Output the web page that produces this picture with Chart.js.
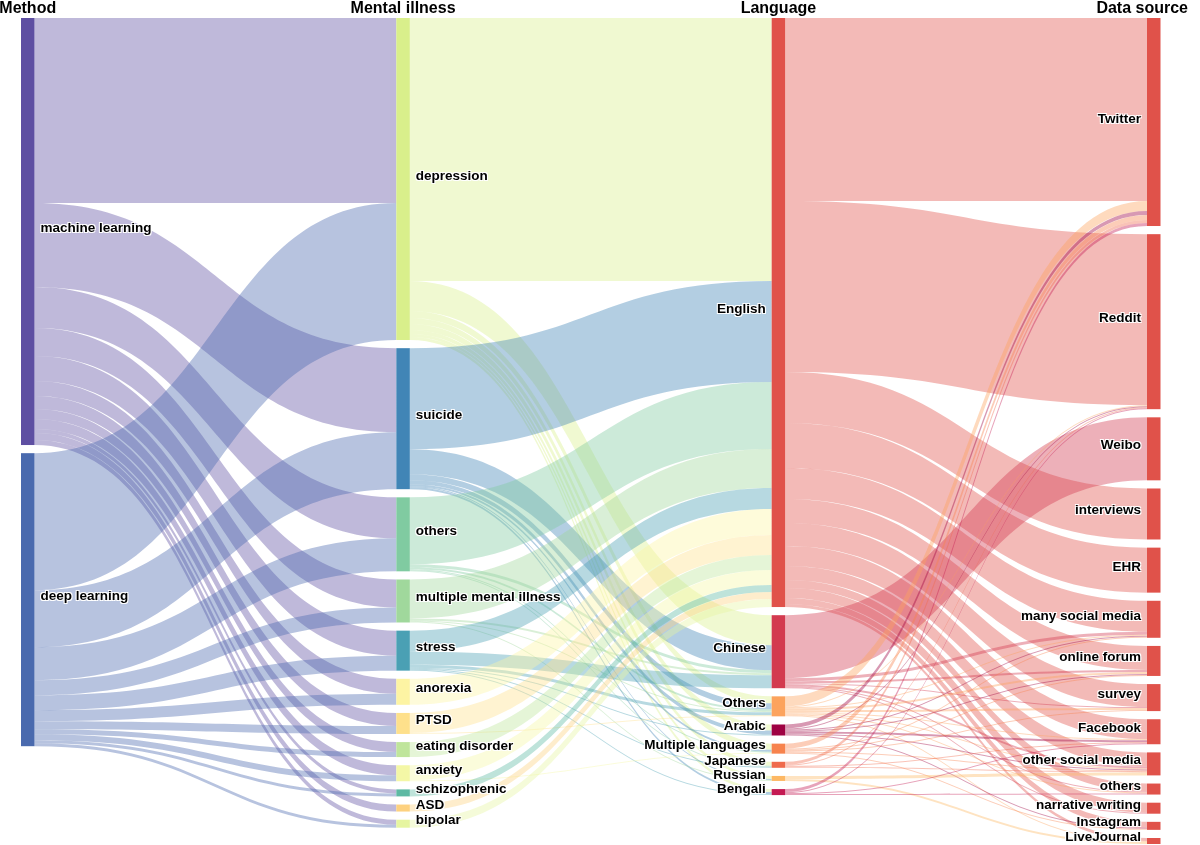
<!DOCTYPE html>
<html>
<head>
<meta charset="utf-8">
<script src="https://cdn.jsdelivr.net/npm/chart.js@4.4.1/dist/chart.umd.min.js"></script>
<style>
  html, body { margin: 0; background: #fff; }
  #wrap { width: 1200px; height: 845px; position: relative; }
</style>
</head>
<body>
<div id="wrap"><canvas id="sankey"></canvas></div>
<script>
// --- Datos ---
const columnTitles = ['Method', 'Mental illness', 'Language', 'Data source'];

const methods = ['machine learning', 'deep learning'];
const illnesses = ['depression', 'suicide', 'others', 'multiple mental illness', 'stress', 'anorexia',
  'PTSD', 'eating disorder', 'anxiety', 'schizophrenic', 'ASD', 'bipolar'];
const languages = ['English', 'Chinese', 'Others', 'Arabic', 'Multiple languages', 'Japanese', 'Russian', 'Bengali'];
const sources = ['Twitter', 'Reddit', 'Weibo', 'interviews', 'EHR', 'many social media', 'online forum',
  'survey', 'Facebook', 'other social media', 'others', 'narrative writing', 'Instagram', 'LiveJournal'];

// method -> mental illness (in illness order)
const mlToIllness = [185, 84, 41, 28, 25, 15, 13, 10, 10, 4, 7, 5];
const dlToIllness = [137, 57, 33, 15, 15, 11, 8, 5, 6, 3, 0, 3];

// mental illness -> language (in language order)
const depressionToLang = [263, 30, 7, 6, 6, 4, 3, 3];
const suicideToLang = [101, 25, 6, 4, 2, 0, 1, 2];
const othersIllToLang = [67, 3, 2, 0, 1, 1, 0, 0];
const multipleToLang = [39, 2, 1, 0, 0, 0, 1, 0];
const stressToLang = [21, 13, 3, 1, 0, 1, 0, 1];
const anorexiaToLang = [26, 0, 0, 0, 0, 0, 0, 0];
const ptsdToLang = [20, 0, 1, 0, 0, 0, 0, 0];
const eatingToLang = [15, 0, 0, 0, 0, 0, 0, 0];
const anxietyToLang = [15, 0, 0, 0, 1, 0, 0, 0];
const schizoToLang = [7, 0, 0, 0, 0, 0, 0, 0];
const asdToLang = [7, 0, 0, 0, 0, 0, 0, 0];
const bipolarToLang = [8, 0, 0, 0, 0, 0, 0, 0];

// language -> data source (in data source order)
const englishToSrc = [183, 171, 0, 51, 45, 31, 24, 23, 20, 14, 8, 10, 6, 3];
const chineseToSrc = [0, 0, 63, 0, 0, 3, 2, 1, 0, 2, 1, 1, 0, 0];
const othersLangToSrc = [10, 1, 0, 0, 0, 1, 2, 2, 1, 1, 1, 0, 0, 1];
const arabicToSrc = [4, 1, 0, 0, 0, 1, 1, 0, 2, 1, 0, 0, 1, 0];
const multiLangToSrc = [5, 0, 0, 0, 0, 1, 1, 1, 0, 1, 0, 0, 1, 0];
const japaneseToSrc = [3, 1, 0, 0, 0, 0, 0, 0, 1, 1, 0, 0, 0, 0];
const russianToSrc = [0, 0, 0, 0, 0, 0, 0, 0, 0, 3, 0, 0, 0, 2];
const bengaliToSrc = [3, 1, 0, 0, 0, 0, 0, 0, 1, 0, 1, 0, 0, 0];

// --- Colores ---
const methodColors = ['#5e4fa2', '#4a6aae'];
const illnessColors = ['#d9ef8b', '#4185b6', '#80cba1', '#a0d89c', '#4aa0b4', '#fdf4a3',
  '#fee08b', '#bfe59b', '#f4f7a6', '#5db9a3', '#fdd17f', '#e6f5a0'];
const languageColors = ['#e0524a', '#d33a4f', '#fca35d', '#9e0142', '#f7834d', '#ef6a4c', '#fdb864', '#c41a52'];
const sourceColors = sources.map(() => '#e0524a');

const NODE_WIDTH = 13.5;   // px
const NODE_PAD = 8.15;     // en unidades de valor
const LINK_ALPHA = 0.4;

const columns = [methods, illnesses, languages, sources];
const colors = [methodColors, illnessColors, languageColors, sourceColors];
const flows = [
  [mlToIllness, dlToIllness],
  [depressionToLang, suicideToLang, othersIllToLang, multipleToLang, stressToLang, anorexiaToLang,
    ptsdToLang, eatingToLang, anxietyToLang, schizoToLang, asdToLang, bipolarToLang],
  [englishToSrc, chineseToSrc, othersLangToSrc, arabicToSrc, multiLangToSrc, japaneseToSrc,
    russianToSrc, bengaliToSrc]
];

/**
 * Calcula posiciones de nodos y enlaces en unidades de valor.
 */
function buildLayout() {
  const nodes = columns.map((names, c) => names.map((name, i) => {
    const out = c < flows.length ? flows[c][i].reduce((a, b) => a + b, 0) : 0;
    const inc = c > 0 ? flows[c - 1].reduce((a, row) => a + row[i], 0) : 0;
    return { name, value: Math.max(out, inc), color: colors[c][i] };
  }));

  nodes.forEach(col => {
    let y = 0;
    col.forEach(n => { n.y0 = y; n.y1 = y + n.value; y = n.y1 + NODE_PAD; });
  });

  const links = [];
  flows.forEach((matrix, c) => {
    const outOff = matrix.map((row, i) => nodes[c][i].y0);
    const inOff = nodes[c + 1].map(n => n.y0);
    const rows = [];
    matrix.forEach((row, i) => {
      row.forEach((v, j) => {
        if (v <= 0) return;
        const link = { c, i, j, v, sy: outOff[i] };
        outOff[i] += v;
        rows.push(link);
      });
    });
    // en el destino, orden por nodo origen
    nodes[c + 1].forEach((n, j) => {
      rows.filter(l => l.j === j).sort((a, b) => a.i - b.i).forEach(l => { l.ty = inOff[j]; inOff[j] += l.v; });
    });
    links.push(...rows);
  });

  const maxExtent = Math.max(...nodes.map(col => col[col.length - 1].y1));
  return { nodes, links, maxExtent };
}

const layout = buildLayout();

function hexToRgba(hex, a) {
  const n = parseInt(hex.slice(1), 16);
  return `rgba(${(n >> 16) & 255}, ${(n >> 8) & 255}, ${n & 255}, ${a})`;
}

function haloText(ctx, text, x, y) {
  ctx.fillStyle = '#fff';
  [[1, 1], [-1, -1], [1, -1], [-1, 1]].forEach(([dx, dy]) => ctx.fillText(text, x + dx, y + dy));
  ctx.fillStyle = '#000';
  ctx.fillText(text, x, y);
}

const sankeyPlugin = {
  id: 'sankeyPlugin',
  afterDraw(chart) {
    const { ctx, scales: { x, y } } = chart;
    const { nodes, links } = layout;
    ctx.save();

    // Enlaces
    links.forEach(l => {
      const x0 = x.getPixelForValue(l.c) + NODE_WIDTH;
      const x1 = x.getPixelForValue(l.c + 1);
      const xm = (x0 + x1) / 2;
      const s0 = y.getPixelForValue(l.sy), s1 = y.getPixelForValue(l.sy + l.v);
      const t0 = y.getPixelForValue(l.ty), t1 = y.getPixelForValue(l.ty + l.v);
      ctx.beginPath();
      ctx.moveTo(x0, s0);
      ctx.bezierCurveTo(xm, s0, xm, t0, x1, t0);
      ctx.lineTo(x1, t1);
      ctx.bezierCurveTo(xm, t1, xm, s1, x0, s1);
      ctx.closePath();
      ctx.fillStyle = hexToRgba(nodes[l.c][l.i].color, LINK_ALPHA);
      ctx.fill();
    });

    // Nodos
    nodes.forEach((col, c) => {
      const left = x.getPixelForValue(c);
      col.forEach(n => {
        const top = y.getPixelForValue(n.y0);
        const bottom = y.getPixelForValue(n.y1);
        ctx.fillStyle = n.color;
        ctx.fillRect(left, top, NODE_WIDTH, bottom - top);
      });
    });

    // Etiquetas
    ctx.font = 'bold 13.5px "Liberation Sans", Arial, sans-serif';
    ctx.textBaseline = 'alphabetic';
    nodes.forEach((col, c) => {
      const left = x.getPixelForValue(c);
      const onRight = c < 2;
      ctx.textAlign = onRight ? 'left' : 'right';
      const tx = onRight ? left + NODE_WIDTH + 6 : left - 6;
      col.forEach(n => {
        const mid = (y.getPixelForValue(n.y0) + y.getPixelForValue(n.y1)) / 2;
        haloText(ctx, n.name, tx, mid + 0.5);
      });
    });

    // Títulos de columna
    ctx.font = 'bold 16px "Liberation Sans", Arial, sans-serif';
    ctx.fillStyle = '#000';
    columnTitles.forEach((t, c) => {
      const cx = x.getPixelForValue(c) + NODE_WIDTH / 2;
      if (c === columnTitles.length - 1) {
        ctx.textAlign = 'right';
        ctx.fillText(t, chart.width - 12, 13);
      } else {
        ctx.textAlign = 'center';
        ctx.fillText(t, cx, 13);
      }
    });

    ctx.restore();
  }
};

new Chart(document.getElementById('sankey'), {
  type: 'scatter',
  data: { datasets: [] },
  options: {
    responsive: true,
    maintainAspectRatio: false,
    animation: false,
    layout: { padding: { left: 21, right: 53, top: 18, bottom: 1 } },
    scales: {
      x: { type: 'linear', min: 0, max: columns.length - 1, display: false },
      y: { type: 'linear', min: 0, max: layout.maxExtent, reverse: true, display: false }
    },
    plugins: { legend: { display: false }, tooltip: { enabled: false } },
    events: []
  },
  plugins: [sankeyPlugin]
});
</script>
</body>
</html>
